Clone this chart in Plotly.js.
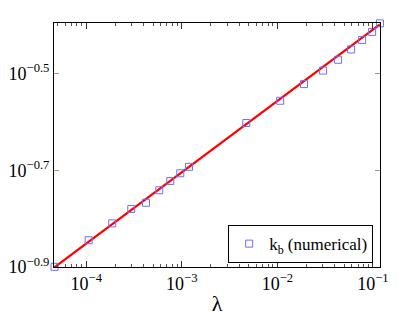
<!DOCTYPE html>
<html>
<head>
<meta charset="utf-8">
<script src="https://cdn.plot.ly/plotly-3.0.1.min.js"></script>
<style>html,body{margin:0;padding:0;background:#fff;}#chart{width:420px;height:316px;}</style>
</head>
<body>
<div id="chart"></div>
<script>
// numerical k_b values vs lambda
var lambdaVals = [4.66e-5, 1.06e-4, 1.87e-4, 2.96e-4, 4.22e-4, 5.81e-4, 7.58e-4, 9.64e-4, 1.19e-3,
                  4.73e-3, 1.07e-2, 1.90e-2, 3.01e-2, 4.32e-2, 5.92e-2, 7.71e-2, 9.81e-2, 0.1185];
var kbVals = [0.126, 0.143, 0.155, 0.166, 0.171, 0.1815, 0.1896, 0.1968, 0.2029,
              0.250, 0.278, 0.301, 0.321, 0.338, 0.355, 0.3715, 0.386, 0.402];
// fitted line
var fitLambda = [4.6e-5, 0.1185];
var fitKb = [0.1255, 0.400];

var xTickVals = [1e-4, 1e-3, 1e-2, 1e-1];
var xTickText = ['10<sup>−4</sup>', '10<sup>−3</sup>', '10<sup>−2</sup>', '10<sup>−1</sup>'];
var xMinorVals = [5e-5,6e-5,7e-5,8e-5,9e-5,
                  2e-4,3e-4,4e-4,5e-4,6e-4,7e-4,8e-4,9e-4,
                  2e-3,3e-3,4e-3,5e-3,6e-3,7e-3,8e-3,9e-3,
                  2e-2,3e-2,4e-2,5e-2,6e-2,7e-2,8e-2,9e-2];
var yTickVals = [Math.pow(10,-0.9), Math.pow(10,-0.7), Math.pow(10,-0.5)];
var yTickText = ['10<sup>−0.9</sup>', '10<sup>−0.7</sup>', '10<sup>−0.5</sup>'];

var FAM = "'Liberation Serif', 'Times New Roman', serif";
var font = {family: FAM, color: '#000', size: 18};

var traces = [
  {x: fitLambda, y: fitKb, mode: 'lines', type: 'scatter', showlegend: false,
   line: {color: '#ff0000', width: 2.2}, hoverinfo: 'skip'},
  {x: lambdaVals, y: kbVals, mode: 'markers', type: 'scatter', name: 'k<sub>b</sub> (numerical)', cliponaxis: false,
   marker: {symbol: 'square-open', size: 7, color: '#6f6fff', line: {width: 1, color: '#6f6fff'}}}
];

var layout = {
  width: 420, height: 316,
  margin: {l: 54, r: 40, t: 23, b: 49},
  paper_bgcolor: '#fff', plot_bgcolor: '#fff',
  font: font,
  showlegend: true,
  legend: {x: 0.979, xanchor: 'right', y: 0.016, yanchor: 'bottom',
           bordercolor: '#000', borderwidth: 1, bgcolor: '#fff',
           font: {family: FAM, size: 17, color: '#000'}, itemwidth: 30},
  xaxis: {type: 'log', range: [Math.log10(4.6e-5), Math.log10(0.1186)],
          showgrid: false, zeroline: false, showline: true, linecolor: '#000', linewidth: 1, mirror: 'ticks',
          ticks: 'inside', ticklen: 6, tickcolor: '#333', tickvals: xTickVals, ticktext: xTickText,
          minor: {ticks: 'inside', ticklen: 3, tickcolor: '#555', tickvals: xMinorVals, showgrid: false},
          tickfont: {family: FAM, size: 18, color: '#000'},
          title: {text: 'λ', font: {family: FAM, size: 22, color: '#000'}, standoff: 4}},
  yaxis: {type: 'log', range: [-0.9, -0.395],
          showgrid: false, zeroline: false, showline: true, linecolor: '#000', linewidth: 1, mirror: 'ticks',
          ticks: 'inside', ticklen: 5, tickcolor: '#999', tickvals: yTickVals, ticktext: yTickText,
          tickfont: {family: FAM, size: 18, color: '#000'}}
};

Plotly.newPlot('chart', traces, layout, {displayModeBar: false});
</script>
</body>
</html>
